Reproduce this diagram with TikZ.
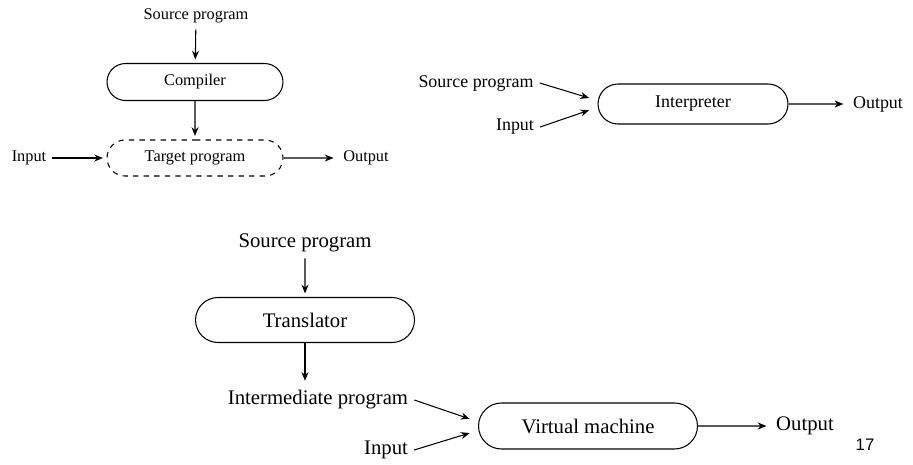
\documentclass[tikz,border=0pt]{standalone}
\usepackage{fontspec}
\setmainfont{Liberation Serif}
\newfontfamily\pagenumfont{Liberation Sans}
\usetikzlibrary{positioning,shapes.misc,arrows.meta}

\begin{document}
\begin{tikzpicture}[x=0.02cm,y=-0.02cm]
		\tikzset{pill/.style={draw, rounded rectangle, inner sep=0pt, line width=0.6pt},
			flow/.style={->, >={Stealth[length=5pt,width=4pt]}, line width=0.6pt, shorten >=2pt}}
		\useasboundingbox (0,0) rectangle (913,464);
		% compiler
		\begin{scope}[font=\fontsize{9.3}{11}\selectfont]
		\node (csrc) at (196,16) {Source program};
		\node[pill, minimum width=3.52cm, minimum height=0.74cm] (comp) at (195,82) {Compiler};
		\node[pill, dashed, minimum width=3.52cm, minimum height=0.72cm] (targ) at (195,158) {Target program};
		\node (cin) at (29,158) {Input};
		\node (cout) at (366,158) {Output};
		\draw[flow] (csrc) -- (comp);
		\draw[flow] (comp) -- (targ);
		\draw[flow] (cin) -- (targ);
		\draw[flow] (targ) -- (cout);
		\end{scope}
		% interpreter
		\begin{scope}[font=\fontsize{10.2}{12}\selectfont]
		\node (isrc) at (476,83) {Source program};
		\node (iin) at (515,127) {Input};
		\node[pill, minimum width=3.8cm, minimum height=0.8cm] (intp) at (693,104) {Interpreter};
		\node (iout) at (878,104) {Output};
		\draw[flow] (isrc.east) -- ([xshift=-1mm,yshift=1mm]intp.west);
		\draw[flow] (iin.east) -- ([xshift=-1mm,yshift=-1mm]intp.west);
		\draw[flow] (intp) -- (iout);
		\end{scope}
		% translator + virtual machine
		\begin{scope}[font=\fontsize{11.8}{14}\selectfont]
		\node (tsrc) at (305,243) {Source program};
		\node[pill, minimum width=4.38cm, minimum height=0.9cm] (trans) at (305,320) {Translator};
		\node (inter) at (318,400) {Intermediate program};
		\node (vin) at (386,450) {Input};
		\node[pill, minimum width=4.38cm, minimum height=0.92cm] (vm) at (588,426) {Virtual machine};
		\node (vout) at (805,426) {Output};
		\draw[flow] (tsrc) -- (trans);
		\draw[flow] (trans.south) -- (trans.south |- inter.north);
		\draw[flow] (inter.east) -- ([xshift=-1mm,yshift=1.2mm]vm.west);
		\draw[flow] (vin.east) -- ([xshift=-1mm,yshift=-1.2mm]vm.west);
		\draw[flow] (vm) -- (vout);
		\end{scope}
		\node[font=\pagenumfont\fontsize{9.5}{11}\selectfont] (pnum) at (865,445) {17};
	\end{tikzpicture}
\end{document}
